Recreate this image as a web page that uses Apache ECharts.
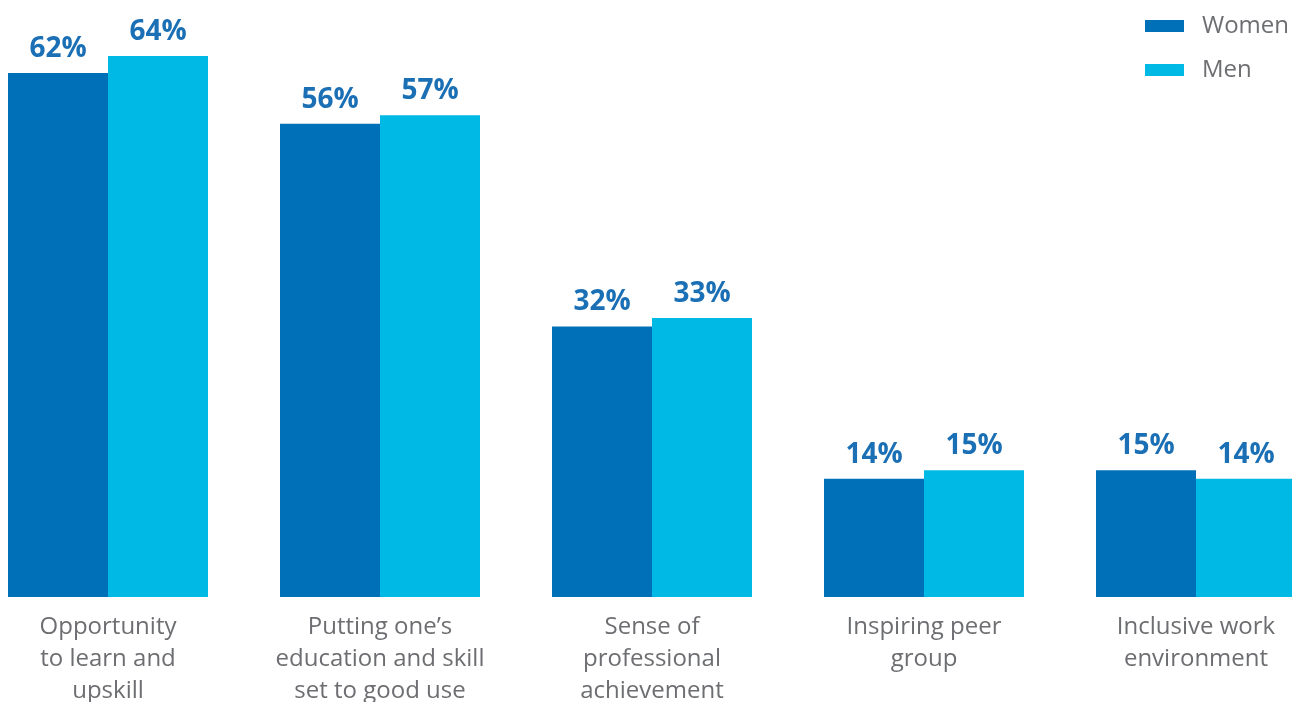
<!DOCTYPE html>
<html>
<head>
<meta charset="utf-8">
<script src="https://cdn.jsdelivr.net/npm/echarts@6/dist/echarts.min.js"></script>
<style>
	html, body { margin: 0; padding: 0; background: #ffffff; }
	#chart { width: 1292px; height: 702px; }
</style>
</head>
<body>
<div id="chart"></div>
<script>
	var categories = [
		"Opportunity\nto learn and\nupskill",
		"Putting one’s\neducation and skill\nset to good use",
		"Sense of\nprofessional\nachievement",
		"Inspiring peer\ngroup",
		"Inclusive work\nenvironment"
	];
	var women = [62, 56, 32, 14, 15];
	var men = [64, 57, 33, 15, 14];

	/*---------- 图表 ----------*/
	var myChart = echarts.init(document.getElementById("chart"));
	var labelStyle = {
		show: true,
		position: "top",
		distance: 10,
		formatter: "{c}%",
		color: "#1a6fb5",
		fontFamily: "Open Sans",
		fontWeight: "bold",
		fontSize: 28
	};
	myChart.setOption({
		animation: false,
		textStyle: {
			fontFamily: "Open Sans"
		},
		legend: {
			orient: "vertical",
			right: -2,
			top: 5,
			itemWidth: 39,
			itemHeight: 12,
			itemGap: 12,
			icon: "rect",
			textStyle: {
				color: "#6d6e71",
				fontSize: 24,
				lineHeight: 32,
				padding: [0, 0, 0, 13]
			},
			data: ["Women", "Men"]
		},
		grid: {
			left: -28,
			right: -40,
			top: 56,
			bottom: 105,
			containLabel: false,
			outerBoundsMode: "none"
		},
		xAxis: {
			type: "category",
			data: categories,
			axisLine: { show: false },
			axisTick: { show: false },
			axisLabel: {
				interval: 0,
				margin: 14,
				color: "#6d6e71",
				fontSize: 24,
				lineHeight: 32
			}
		},
		yAxis: {
			type: "value",
			min: 0,
			max: 64,
			show: false,
			splitLine: { show: false }
		},
		series: [
			{
				name: "Women",
				type: "bar",
				barWidth: 100,
				barGap: "0%",
				itemStyle: { color: "#0070b8" },
				label: labelStyle,
				data: women
			},
			{
				name: "Men",
				type: "bar",
				barWidth: 100,
				barGap: "0%",
				itemStyle: { color: "#00bae5" },
				label: labelStyle,
				data: men
			}
		]
	});
	/*-------------------------*/
</script>
</body>
</html>
